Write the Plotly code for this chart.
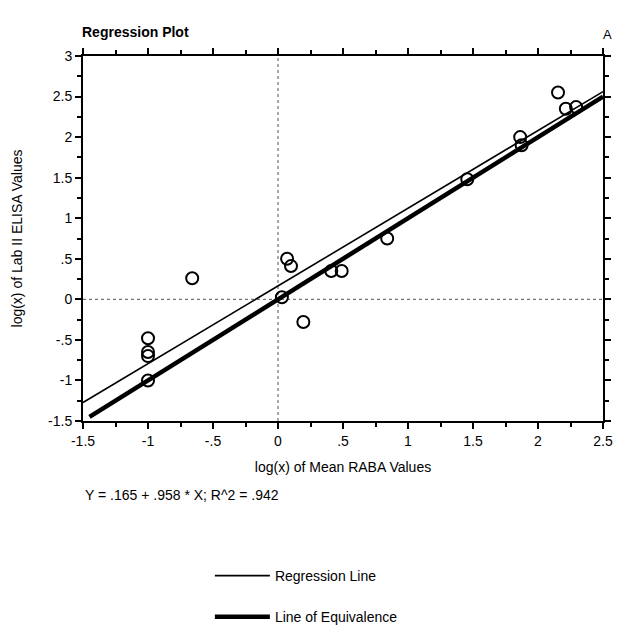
import plotly.graph_objects as go

# Data
raba_x = [-1.0, -1.0, -1.0, -1.0, -0.66, 0.03, 0.07, 0.10, 0.195, 0.41, 0.49,
          0.84, 1.456, 1.863, 1.874, 2.154, 2.214, 2.293]
elisa_y = [-0.48, -0.65, -0.70, -1.0, 0.26, 0.025, 0.50, 0.41, -0.28, 0.35, 0.35,
           0.75, 1.48, 2.0, 1.90, 2.55, 2.35, 2.37]

intercept = 0.165
slope = 0.958
r2 = 0.942
line_x = [-1.5, 2.5]
equiv_x = [-1.45, 2.5]

x_ticks = [-1.5, -1, -0.5, 0, 0.5, 1, 1.5, 2, 2.5]
x_ticktext = ["-1.5", "-1", "-.5", "0", ".5", "1", "1.5", "2", "2.5"]
y_ticks = [-1.5, -1, -0.5, 0, 0.5, 1, 1.5, 2, 2.5, 3]
y_ticktext = ["-1.5", "-1", "-.5", "0", ".5", "1", "1.5", "2", "2.5", "3"]

FONT = "Liberation Sans, Arial, Helvetica, sans-serif"

fig = go.Figure()

fig.add_trace(go.Scatter(
    x=line_x, y=[intercept + slope * v for v in line_x],
    mode="lines", line=dict(color="black", width=1.6),
    name="Regression Line", legendgroup="a"))
fig.add_trace(go.Scatter(
    x=equiv_x, y=list(equiv_x),
    mode="lines", line=dict(color="black", width=4.5),
    name="Line of Equivalence", legendgroup="b"))
fig.add_trace(go.Scatter(
    x=raba_x, y=elisa_y, mode="markers",
    marker=dict(symbol="circle-open", size=12, color="black", line=dict(width=2)),
    showlegend=False))

# dotted reference lines at 0
fig.add_shape(type="line", xref="x", yref="y", x0=0, x1=0, y0=-1.5, y1=3,
              line=dict(color="#555555", width=1, dash="dot"), layer="below")
fig.add_shape(type="line", xref="x", yref="y", x0=-1.5, x1=2.5, y0=0, y1=0,
              line=dict(color="#555555", width=1, dash="dot"), layer="below")

axis_common = dict(
    showgrid=False, zeroline=False, showline=True, linecolor="black", linewidth=2,
    mirror="ticks", ticks="outside", ticklen=6, tickwidth=1.5, tickcolor="black",
    tickfont=dict(family=FONT, size=14, color="black"), automargin=False,
    minor=dict(ticks="outside", ticklen=4, tickwidth=1.5, tickcolor="black", dtick=0.25),
)

fig.update_xaxes(range=[-1.5, 2.5], tickvals=x_ticks, ticktext=x_ticktext,
                 title=dict(text="log(x) of Mean RABA Values",
                            font=dict(family=FONT, size=14, color="black"), standoff=14),
                 **axis_common)
fig.update_yaxes(range=[-1.5, 3], tickvals=y_ticks, ticktext=y_ticktext,
                 title=dict(text="log(x) of Lab II ELISA Values",
                            font=dict(family=FONT, size=14, color="black"), standoff=22),
                 **axis_common)

fig.add_annotation(text="<b>Regression Plot</b>", xref="paper", yref="paper",
                   x=-0.005, y=1.0, xanchor="left", yanchor="bottom", yshift=14,
                   showarrow=False, font=dict(family=FONT, size=14, color="black"))
fig.add_annotation(text="A", xref="paper", yref="paper", x=1.008, y=1.0,
                   xanchor="center", yanchor="bottom", yshift=12,
                   showarrow=False, font=dict(family=FONT, size=13, color="black"))
fig.add_annotation(text=f"Y = .{int(round(intercept*1000)):03d} + .{int(round(slope*1000))} * X; R^2 = .{int(round(r2*1000))}",
                   xref="paper", yref="paper", x=0.0, y=0, xanchor="left", yanchor="middle",
                   yshift=-74, showarrow=False,
                   font=dict(family=FONT, size=14, color="black"))

# the page body adds an 8 px offset, so the figure is 8 px smaller on each side
fig.update_layout(
    width=618, height=620,
    margin=dict(l=75, r=23, t=48, b=207, autoexpand=False),
    plot_bgcolor="white", paper_bgcolor="white",
    showlegend=True,
    legend=dict(x=0.244, y=-0.381, xanchor="left", yanchor="top",
                font=dict(family=FONT, size=14, color="black"),
                tracegroupgap=20, traceorder="grouped", itemwidth=55,
                bgcolor="rgba(0,0,0,0)"),
)

fig.write_html("out.html")
